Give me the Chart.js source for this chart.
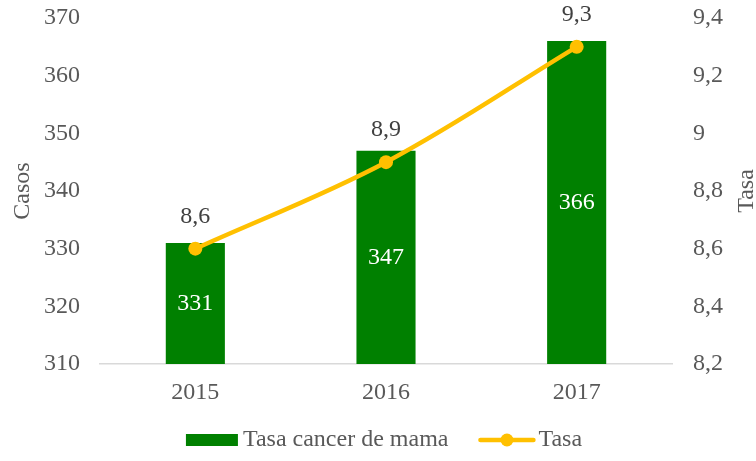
<!DOCTYPE html>
<html>
<head>
<meta charset="utf-8">
<script src="https://cdn.jsdelivr.net/npm/chart.js@4"></script>
<style>
  html, body { margin: 0; padding: 0; background: #fff; }
  #wrap { width: 756px; height: 461px; }
</style>
</head>
<body>
<div id="wrap"><canvas id="chart" width="756" height="461"></canvas></div>
<script>
const categories = ["2015", "2016", "2017"];
const casos = [331, 347, 366];
const tasa = [8.6, 8.9, 9.3];
const casosRange = [310, 370, 10];
const tasaRange = [8.2, 9.4, 0.2];
const seriesNames = ["Tasa cancer de mama", "Tasa"];

const green = "#008000";
const gold = "#FFC000";
const textColor = "#595959";
const font = "'Liberation Serif', 'Times New Roman', serif";
const fontSize = 24;

function fmt(v) {
  return String(Number(v.toFixed(1))).replace(".", ",");
}

const extras = {
  id: "extras",
  afterDatasetsDraw(chart) {
    const ctx = chart.ctx;
    const ys = chart.scales.y;
    ctx.save();
    ctx.font = fontSize + "px " + font;
    ctx.textAlign = "center";
    ctx.textBaseline = "middle";
    // value inside each bar
    chart.getDatasetMeta(0).data.forEach((el, i) => {
      const top = ys.getPixelForValue(casos[i]);
      const base = ys.getPixelForValue(casosRange[0]);
      ctx.fillStyle = "#ffffff";
      ctx.fillText(String(casos[i]), el.x, (top + base) / 2);
    });
    // rate above each point
    chart.getDatasetMeta(1).data.forEach((el, i) => {
      ctx.fillStyle = "#404040";
      ctx.fillText(fmt(tasa[i]), el.x, el.y - 32);
    });
    ctx.restore();
  },
  afterDraw(chart) {
    const ctx = chart.ctx;
    const a = chart.chartArea;
    ctx.save();
    ctx.font = fontSize + "px " + font;
    ctx.fillStyle = textColor;
    ctx.textBaseline = "middle";

    // right axis title, reading bottom to top
    ctx.save();
    ctx.textAlign = "center";
    ctx.translate(747, (a.top + a.bottom) / 2);
    ctx.rotate(-Math.PI / 2);
    ctx.fillText("Tasa", 0, 0);
    ctx.restore();

    // legend
    const y = 440;
    const w0 = ctx.measureText(seriesNames[0]).width;
    const w1 = ctx.measureText(seriesNames[1]).width;
    const total = 52 + 5 + w0 + 30 + 57 + 3 + w1;
    let x = 384 - total / 2;
    ctx.textAlign = "left";
    ctx.fillStyle = green;
    ctx.fillRect(x, y - 6, 52, 12);
    x += 57;
    ctx.fillStyle = textColor;
    ctx.fillText(seriesNames[0], x, y);
    x += w0 + 30;
    ctx.strokeStyle = gold;
    ctx.lineWidth = 4.5;
    ctx.lineCap = "round";
    ctx.beginPath();
    ctx.moveTo(x + 2, y);
    ctx.lineTo(x + 55, y);
    ctx.stroke();
    ctx.fillStyle = gold;
    ctx.beginPath();
    ctx.arc(x + 28.5, y, 6.5, 0, Math.PI * 2);
    ctx.fill();
    x += 60;
    ctx.fillStyle = textColor;
    ctx.fillText(seriesNames[1], x, y);
    ctx.restore();
  },
};

function noVPad(s) {
  s.paddingTop = 0;
  s.paddingBottom = 0;
}

new Chart(document.getElementById("chart"), {
  type: "bar",
  data: {
    labels: categories,
    datasets: [
      {
        type: "bar",
        label: seriesNames[0],
        data: casos,
        backgroundColor: green,
        yAxisID: "y",
        barPercentage: 0.31,
        categoryPercentage: 1,
        order: 2,
      },
      {
        type: "line",
        label: seriesNames[1],
        data: tasa,
        borderColor: gold,
        backgroundColor: gold,
        borderWidth: 4.5,
        pointRadius: 7,
        pointBackgroundColor: gold,
        pointBorderWidth: 0,
        tension: 0.35,
        yAxisID: "y1",
        order: 1,
      },
    ],
  },
  options: {
    responsive: false,
    animation: false,
    layout: { padding: { top: 18, bottom: 49, left: 0, right: 0 } },
    plugins: {
      tooltip: { enabled: false },
      legend: { display: false },
    },
    scales: {
      x: {
        grid: { display: false, drawTicks: false },
        border: { color: "#d9d9d9", width: 1.5 },
        ticks: { color: textColor, font: { family: font, size: fontSize }, padding: 14 },
        afterFit(s) { s.height = 48; },
      },
      y: {
        position: "left",
        min: casosRange[0],
        max: casosRange[1],
        grid: { display: false, drawTicks: false },
        border: { display: false },
        ticks: { stepSize: casosRange[2], color: textColor, font: { family: font, size: fontSize }, padding: 20 },
        title: { display: true, text: "Casos", color: textColor, font: { family: font, size: fontSize }, padding: { top: 8, bottom: 0 } },
        afterFit(s) { s.width = 100; noVPad(s); },
      },
      y1: {
        position: "right",
        min: tasaRange[0],
        max: tasaRange[1],
        grid: { display: false, drawTicks: false },
        border: { display: false },
        ticks: {
          stepSize: tasaRange[2],
          color: textColor,
          font: { family: font, size: fontSize },
          padding: 21,
          callback: (v) => fmt(v),
        },
        afterFit(s) { s.width = 84; noVPad(s); },
      },
    },
  },
  plugins: [extras],
});
</script>
</body>
</html>
